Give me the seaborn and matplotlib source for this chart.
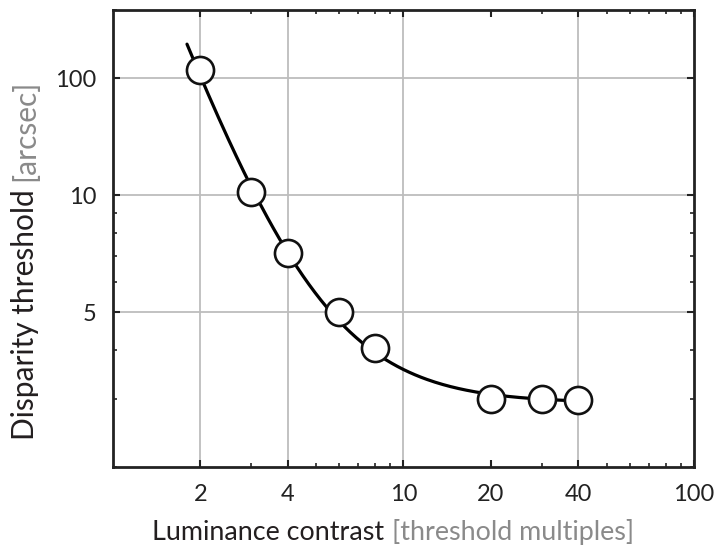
import numpy as np
import pandas as pd
import matplotlib
matplotlib.use("Agg")
import matplotlib.pyplot as plt
import matplotlib.ticker as mticker
import seaborn as sns

# ---- data ----
contrast = [2, 3, 4, 6, 8, 20, 30, 40]
threshold = [21.0, 10.2, 7.1, 5.0, 4.05, 3.0, 3.0, 2.97]

x_ticks = [2, 4, 10, 20, 40, 100]
x_tick_labels = ["2", "4", "10", "20", "40", "100"]
y_ticks = [5, 10, 20]
y_tick_labels = ["5", "10", "100"]
x_grid = [2, 4, 10, 40]
y_grid = [5, 10, 20]

sns.set_theme(style="ticks")
plt.rcParams['font.family'] = ['Lato', 'DejaVu Sans']

df = pd.DataFrame({"contrast": contrast, "threshold": threshold})

# fitted curve y = c + a * x^-p (least squares in log space)
xa = np.array(contrast, float)
ya = np.array(threshold, float)
best = None
for c in np.linspace(0.0, ya.min() - 0.01, 300):
    p, la = np.polyfit(np.log(xa), np.log(ya - c), 1)
    pred = c + np.exp(la) * xa ** p
    err = np.sum((np.log(pred) - np.log(ya)) ** 2)
    if best is None or err < best[0]:
        best = (err, c, p, la)
_, c, p, la = best
xf = np.geomspace(1.8, 40, 200)
fit = pd.DataFrame({"contrast": xf, "threshold": c + np.exp(la) * xf ** p})

fig = plt.figure(figsize=(7.14, 5.5), dpi=100)
ax = fig.add_axes([0.158, 0.151, 0.814, 0.831])

for g in x_grid:
    ax.axvline(g, color="#bdbdbd", lw=1.3, zorder=0)
for g in y_grid:
    ax.axhline(g, color="#bdbdbd", lw=1.3, zorder=0)

sns.lineplot(data=fit, x="contrast", y="threshold", ax=ax, color="black", lw=2.3, zorder=2)
sns.scatterplot(data=df, x="contrast", y="threshold", ax=ax, s=380, facecolor="white",
                edgecolor="#111111", linewidth=1.9, zorder=3)

ax.set_xscale("log")
ax.set_yscale("log")
ax.set_xlim(1, 100)
ax.set_ylim(2, 30)

ax.xaxis.set_major_locator(mticker.FixedLocator(x_ticks))
ax.xaxis.set_major_formatter(mticker.FixedFormatter(x_tick_labels))
ax.xaxis.set_minor_locator(mticker.LogLocator(base=10, subs=np.arange(2, 10), numticks=20))
ax.xaxis.set_minor_formatter(mticker.NullFormatter())
ax.yaxis.set_major_locator(mticker.FixedLocator(y_ticks))
ax.yaxis.set_major_formatter(mticker.FixedFormatter(y_tick_labels))
ax.yaxis.set_minor_locator(mticker.LogLocator(base=10, subs=np.arange(2, 10), numticks=20))
ax.yaxis.set_minor_formatter(mticker.NullFormatter())

ax.tick_params(which="both", direction="in", top=True, right=True, color="#222222",
               labelsize=17, labelcolor="#222222")
ax.tick_params(which="major", length=5, width=1.5, pad=12)
ax.tick_params(which="minor", length=3, width=1.2)
for s in ax.spines.values():
    s.set_linewidth(2.0)
    s.set_color("#222222")

ax.set_xlabel("")
ax.set_ylabel("")

# two-colour axis labels
t1 = fig.text(152 / 714, 1 - 540 / 550, "Luminance contrast", fontsize=19.4, color="#231f20",
              ha="left", va="baseline")
ax.annotate("[threshold multiples]", xy=(1, 0), xycoords=t1, xytext=(6, 0),
            textcoords="offset points", fontsize=19.4, color="#8a8a8a", ha="left", va="bottom")
t2 = fig.text(11 / 714, 1 - 440 / 550, "Disparity threshold", fontsize=21.5, color="#231f20",
              rotation=90, ha="left", va="bottom")
ax.annotate("[arcsec]", xy=(0, 1), xycoords=t2, xytext=(0, 6),
            textcoords="offset points", fontsize=21.5, color="#8a8a8a", rotation=90,
            ha="left", va="bottom")

fig.savefig("out.png", dpi=100)
